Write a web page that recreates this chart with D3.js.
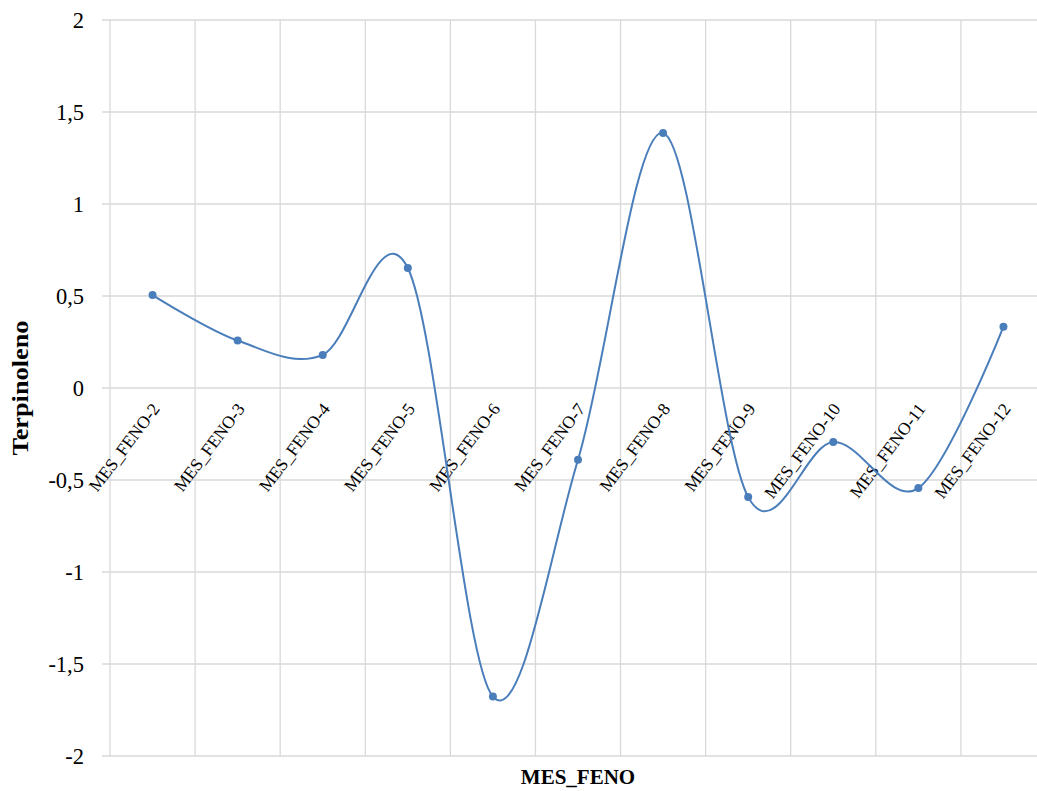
<!DOCTYPE html>
<html><head><meta charset="utf-8">
<script src="https://cdn.jsdelivr.net/npm/d3@7"></script>
<style>body{margin:0;background:#fff}</style>
</head><body><svg id="c" width="1037" height="791"></svg>
<script>
const categories = ["MES_FENO-2","MES_FENO-3","MES_FENO-4","MES_FENO-5","MES_FENO-6","MES_FENO-7","MES_FENO-8","MES_FENO-9","MES_FENO-10","MES_FENO-11","MES_FENO-12"];
const values = [0.505, 0.258, 0.18, 0.652, -1.677, -0.39, 1.386, -0.593, -0.294, -0.544, 0.333];
const yTicks = [-2,-1.5,-1,-0.5,0,0.5,1,1.5,2];

const svg = d3.select("#c");
const L=110, R=1046, T=20, B=756;
const font = "'Liberation Serif', 'DejaVu Serif', serif";
const x = d3.scaleBand().domain(categories).range([L,R]).padding(0);
const y = d3.scaleLinear().domain([-2,2]).range([B,T]);
const grid = "#d9d9d9";

svg.append("g").selectAll("line").data(yTicks).join("line")
  .attr("x1",L-8).attr("x2",R).attr("y1",d=>y(d)).attr("y2",d=>y(d))
  .attr("stroke",grid).attr("stroke-width",1.3);
const edges = categories.map(c=>x(c));
svg.append("g").selectAll("line").data(edges).join("line")
  .attr("x1",d=>d).attr("x2",d=>d).attr("y1",T).attr("y2",B)
  .attr("stroke",grid).attr("stroke-width",1.3);

svg.append("g").selectAll("text").data(yTicks).join("text")
  .attr("x",L-26).attr("y",d=>y(d)).attr("dy","0.35em")
  .attr("text-anchor","end").attr("font-family",font).attr("font-size",22.5)
  .attr("fill","#000").text(d=>String(d).replace(".",","));

svg.append("g").selectAll("text").data(categories).join("text")
  .attr("transform",d=>`translate(${x(d)+x.bandwidth()/2+8},${y(0)+21}) rotate(-53)`)
  .attr("text-anchor","end").attr("font-family",font).attr("font-size",17.5)
  .attr("fill","#000").text(d=>d);

const line = d3.line().x((d,i)=>x(categories[i])+x.bandwidth()/2).y(d=>y(d))
  .curve(d3.curveCardinal.tension(0));
svg.append("path").datum(values).attr("d",line).attr("fill","none")
  .attr("stroke","#4a7ebb").attr("stroke-width",2);
svg.append("g").selectAll("circle").data(values).join("circle")
  .attr("cx",(d,i)=>x(categories[i])+x.bandwidth()/2).attr("cy",d=>y(d)).attr("r",4)
  .attr("fill","#4a7ebb");

svg.append("text").attr("x",(L+R)/2).attr("y",784).attr("text-anchor","middle")
  .attr("font-family",font).attr("font-weight","bold").attr("font-size",21).text("MES_FENO");
svg.append("text").attr("transform",`translate(28,${(T+B)/2}) rotate(-90)`).attr("text-anchor","middle")
  .attr("font-family",font).attr("font-weight","bold").attr("font-size",23)
  .attr("textLength",135).attr("lengthAdjust","spacingAndGlyphs").text("Terpinoleno");
</script></body></html>
